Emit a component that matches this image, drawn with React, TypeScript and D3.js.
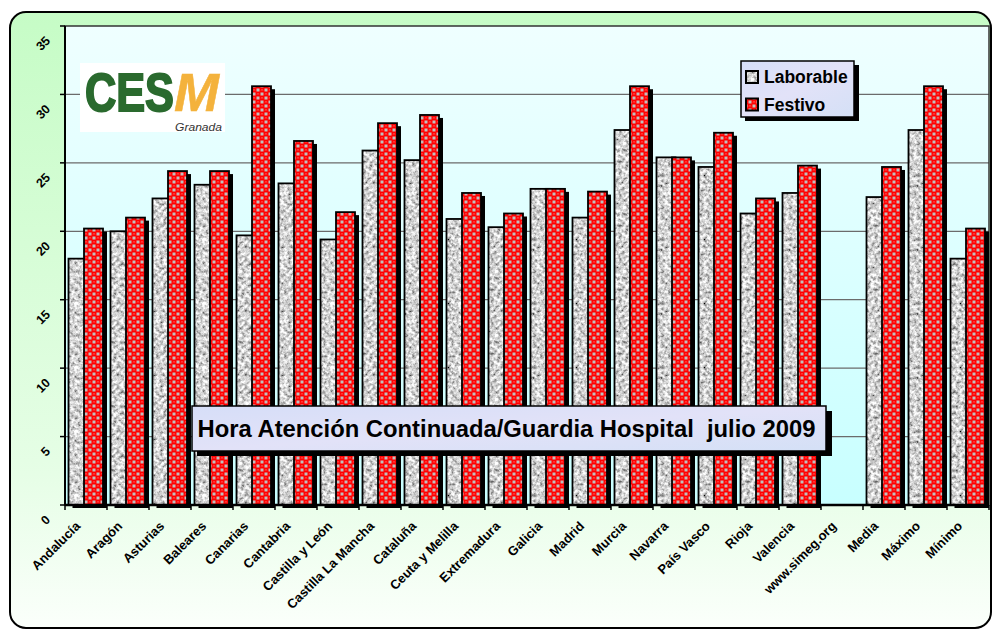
import React from "react";
import * as d3 from "d3";

const categories = ["Andalucía","Aragón","Asturias","Baleares","Canarias","Cantabria","Castilla y León","Castilla La Mancha","Cataluña","Ceuta y Melilla","Extremadura","Galicia","Madrid","Murcia","Navarra","País Vasco","Rioja","Valencia","www.simeg.org","Media","Máximo","Mínimo"];
const laborable: (number | null)[] = [18.0, 20.0, 22.4, 23.4, 19.7, 23.5, 19.4, 25.9, 25.2, 20.9, 20.3, 23.1, 21.0, 27.4, 25.4, 24.7, 21.3, 22.8, null, 22.5, 27.4, 18.0];
const festivo: (number | null)[] = [20.2, 21.0, 24.4, 24.4, 30.6, 26.6, 21.4, 27.9, 28.5, 22.8, 21.3, 23.1, 22.9, 30.6, 25.4, 27.2, 22.4, 24.8, null, 24.7, 30.6, 20.2];
const yTicks = [0, 5, 10, 15, 20, 25, 30, 35];
const seriesNames = ["Laborable", "Festivo"];
const title = "Hora Atención Continuada/Guardia Hospital\u00a0\u00a0julio 2009";

const W = 992, H = 630;
const PL = 65, PR = 989, PT = 26, PB = 505;

export default function App() {
  const x = d3.scaleBand<string>().domain(categories).range([PL, PR]).paddingInner(0).paddingOuter(0);
  const y = d3.scaleLinear().domain([0, 35]).range([PB, PT]);
  const bw = 19;
  const offs = [3.5, 19];
  const fills = ["url(#grayPat)", "url(#redPat)"];
  const font = "Arial, 'Liberation Sans', Helvetica, sans-serif";

  const bars: React.ReactNode[] = [];
  categories.forEach((c, i) => {
    [laborable[i], festivo[i]].forEach((v, s) => {
      if (v == null) return;
      const bx = (x(c) as number) + offs[s];
      const by = y(v);
      const bh = PB - by;
      bars.push(
        <g key={c + s}>
          <rect x={bx + 4} y={by + 3} width={bw} height={bh} fill="#000" />
          <rect x={bx} y={by} width={bw} height={bh} fill={fills[s]} stroke="#000" strokeWidth={1.8} />
        </g>
      );
    });
  });

  return (
    <svg width={W} height={H} style={{ position: "absolute", left: 0, top: 0 }} fontFamily={font}>
      <defs>
        <linearGradient id="outerGrad" x1="0" y1="0" x2="0" y2="1">
          <stop offset="0" stopColor="#c6fcc6" />
          <stop offset="0.75" stopColor="#e6fee6" />
          <stop offset="1" stopColor="#fbfffb" />
        </linearGradient>
        <linearGradient id="plotGrad" x1="0" y1="0" x2="0" y2="1">
          <stop offset="0" stopColor="#efffff" />
          <stop offset="1" stopColor="#c8ffff" />
        </linearGradient>
        <filter id="granite" x="0" y="0" width="1" height="1">
          <feTurbulence type="fractalNoise" baseFrequency="0.28" numOctaves="3" seed="7" stitchTiles="stitch" />
          <feColorMatrix type="matrix" values="1.7 0 0 0 -0.2  1.7 0 0 0 -0.2  1.7 0 0 0 -0.2  0 0 0 0 1" />
        </filter>
        <pattern id="grayPat" patternUnits="userSpaceOnUse" width="64" height="64">
          <rect width="64" height="64" fill="#bbb" filter="url(#granite)" />
        </pattern>
        <pattern id="redPat" patternUnits="userSpaceOnUse" width="8" height="8">
          <rect width="8" height="8" fill="#ff0000" />
          <rect x="0.5" y="0.5" width="3" height="3" fill="#c0c0c0" />
          <rect x="4.5" y="4.5" width="3" height="3" fill="#c0c0c0" />
          <path d="M4.8 2.2 q1.2 -1 2.4 0" stroke="#ff9090" strokeWidth="0.6" fill="none" />
          <path d="M0.8 6.2 q1.2 -1 2.4 0" stroke="#ff9090" strokeWidth="0.6" fill="none" />
        </pattern>
        <linearGradient id="boxGrad" x1="0" y1="0" x2="1" y2="1">
          <stop offset="0" stopColor="#d6def8" />
          <stop offset="0.5" stopColor="#e2e2f8" />
          <stop offset="1" stopColor="#d4e0f6" />
        </linearGradient>
      </defs>

      {/* outer chart area */}
      <rect x={10} y={12} width={981} height={616} rx={16} ry={16} fill="url(#outerGrad)" stroke="#000" strokeWidth={2} />

      {/* plot area */}
      <rect x={PL} y={PT} width={PR - PL} height={PB - PT} fill="url(#plotGrad)" />
      {yTicks.filter(t => t > 0 && t < 35).map(t => (
        <line key={t} x1={PL} x2={PR} y1={y(t)} y2={y(t)} stroke="#6b6b6b" strokeWidth={1.2} />
      ))}
      <rect x={PL} y={PT} width={PR - PL} height={PB - PT} fill="none" stroke="#333" strokeWidth={1.5} />

      {/* logo */}
      <g>
        <rect x={80} y={63} width={145} height={69} fill="#ffffff" />
        <text x={85} y={111} fontSize={54} fontWeight="bold" fill="#2a6a2e" stroke="#2a6a2e" strokeWidth={2}>
          <tspan textLength={89} lengthAdjust="spacingAndGlyphs">CES</tspan><tspan fontStyle="italic" fill="#f4b23c" stroke="#f4b23c" strokeWidth={0.5}>M</tspan>
        </text>
        <text x={175} y={131} fontSize={10.5} fontStyle="italic" fill="#333" textLength={47} lengthAdjust="spacingAndGlyphs">Granada</text>
      </g>

      {bars}

      {/* axes */}
      <line x1={PL} x2={PL} y1={PT} y2={PB} stroke="#000" strokeWidth={2} />
      <line x1={PL} x2={PR} y1={PB} y2={PB} stroke="#000" strokeWidth={2.5} />
      {yTicks.map(t => (
        <g key={"yt" + t}>
          <line x1={PL - 5} x2={PL} y1={y(t)} y2={y(t)} stroke="#000" strokeWidth={1.5} />
          <text transform={`translate(51,${y(t) + 15.5}) rotate(-45)`} textAnchor="end" fontSize={12.5} fontWeight="bold" fill="#000">{t}</text>
        </g>
      ))}
      {d3.range(categories.length + 1).map(i => {
        const tx = PL + i * x.bandwidth();
        return <line key={"xt" + i} x1={tx} x2={tx} y1={PB} y2={PB + 5} stroke="#000" strokeWidth={1.5} />;
      })}
      {categories.map(c => {
        const cx = (x(c) as number) + x.bandwidth() / 2;
        return (
          <text key={"xl" + c} transform={`translate(${cx - 5},527) rotate(-45)`} textAnchor="end" fontSize={13} fontWeight="bold" fill="#000">{c}</text>
        );
      })}

      {/* legend */}
      <g>
        <rect x={745} y={65} width={114} height={56} fill="#000" />
        <rect x={741} y={61} width={113} height={56} fill="url(#boxGrad)" stroke="#000" strokeWidth={1.5} />
        {seriesNames.map((n, i) => (
          <g key={n}>
            <rect x={746} y={71 + i * 27.5} width={12} height={12} fill={fills[i]} stroke="#000" strokeWidth={2} />
            <text x={764} y={83 + i * 27.5} fontSize={17.5} fontWeight="bold" fill="#000">{n}</text>
          </g>
        ))}
      </g>

      {/* title */}
      <g>
        <rect x={197} y={411} width={635} height={45} fill="#000" />
        <rect x={192} y={406} width={634} height={45} fill="url(#boxGrad)" stroke="#000" strokeWidth={1.5} />
        <text x={197.5} y={437} fontSize={23.8} fontWeight="bold" fill="#000">{title}</text>
      </g>
    </svg>
  );
}
